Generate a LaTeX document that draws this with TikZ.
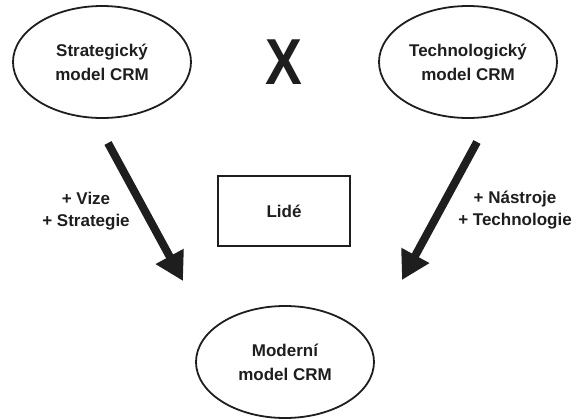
\documentclass[tikz,border=0pt]{standalone}
\usepackage{fontspec}
\setmainfont{Liberation Sans}
\usetikzlibrary{shapes.geometric,arrows.meta}
\definecolor{ink}{HTML}{1E1E1E}
\tikzset{
  oval/.style={ellipse,draw=ink,line width=1.8pt,minimum width=178pt,minimum height=112pt,inner sep=0pt,align=center,text=ink,font=\fontsize{17}{24}\selectfont\bfseries},
  boxnode/.style={rectangle,draw=ink,line width=1.8pt,minimum width=132pt,minimum height=70pt,inner sep=0pt,text=ink,font=\fontsize{17}{24}\selectfont\bfseries},
  lbl/.style={align=center,text=ink,inner sep=0pt,font=\fontsize{17}{22}\selectfont\bfseries},
  bigarrow/.style={draw=ink,line width=8pt,-{Triangle[length=28pt,width=30pt]}}
}
\begin{document}
\begin{tikzpicture}[x=1pt,y=-1pt]
\useasboundingbox (0,0) rectangle (576,418);
\node[oval] (s) at (102,62) {Strategický\\model CRM};
\node[oval] (t) at (468,62) {Technologický\\model CRM};
\node[oval] (m) at (285,362) {Moderní\\model CRM};
\node[boxnode] (l) at (284,211) {Lidé};
\node[text=ink,inner sep=0pt,font=\fontsize{65}{65}\selectfont\bfseries,xscale=0.85] (x) at (284,62) {X};
\node[lbl] (lv) at (86,211) {+ Vize\\+ Strategie};
\node[lbl] (lt) at (515,210) {+ Nástroje\\+ Technologie};
\coordinate (a1s) at (108,143);
\coordinate (a1e) at (183,281);
\coordinate (a2s) at (477,142);
\coordinate (a2e) at (402,280);
\draw[bigarrow] (a1s) -- (a1e);
\draw[bigarrow] (a2s) -- (a2e);
\end{tikzpicture}
\end{document}
